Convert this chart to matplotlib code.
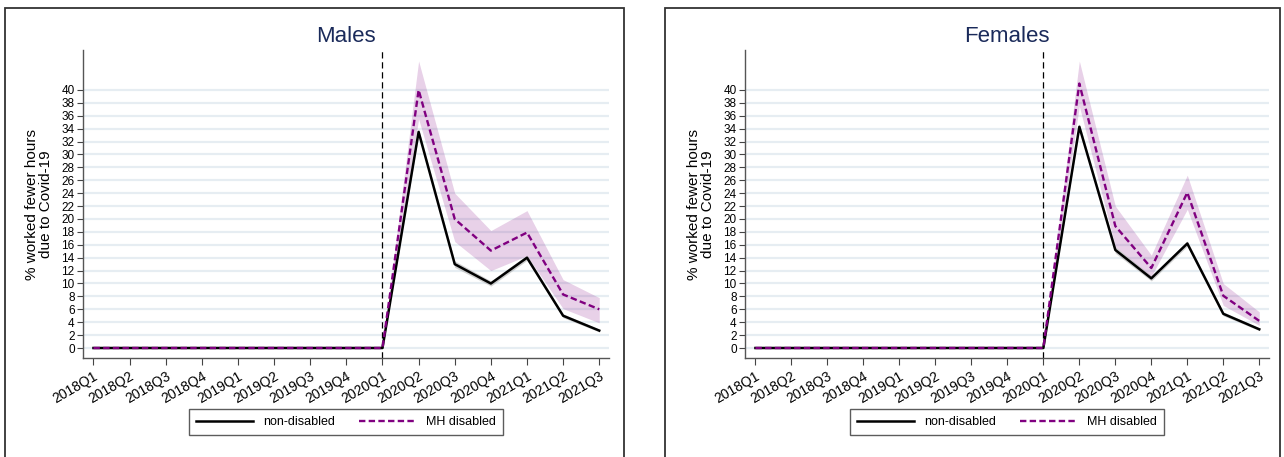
import numpy as np
import matplotlib
matplotlib.use("Agg")
from matplotlib import pyplot as plt
from matplotlib.patches import Rectangle

plt.rcParams['font.family'] = ['Liberation Sans', 'DejaVu Sans']

quarters = ['2018Q1', '2018Q2', '2018Q3', '2018Q4', '2019Q1', '2019Q2', '2019Q3',
            '2019Q4', '2020Q1', '2020Q2', '2020Q3', '2020Q4', '2021Q1', '2021Q2', '2021Q3']

# Males
m_non = [0, 0, 0, 0, 0, 0, 0, 0, 0, 33.5, 13.0, 10.0, 14.0, 5.0, 2.7]
m_non_lo = [0, 0, 0, 0, 0, 0, 0, 0, 0, 33.0, 12.5, 9.6, 13.6, 4.7, 2.5]
m_non_hi = [0, 0, 0, 0, 0, 0, 0, 0, 0, 34.0, 13.5, 10.4, 14.4, 5.3, 2.9]
m_mh = [0, 0, 0, 0, 0, 0, 0, 0, 0, 40.0, 20.0, 15.1, 17.9, 8.3, 6.0]
m_mh_lo = [0, 0, 0, 0, 0, 0, 0, 0, 0, 35.5, 16.5, 12.0, 14.3, 6.1, 3.9]
m_mh_hi = [0, 0, 0, 0, 0, 0, 0, 0, 0, 44.5, 24.0, 18.2, 21.3, 10.6, 7.8]

# Females
f_non = [0, 0, 0, 0, 0, 0, 0, 0, 0, 34.3, 15.2, 10.8, 16.2, 5.3, 2.9]
f_non_lo = [0, 0, 0, 0, 0, 0, 0, 0, 0, 33.8, 14.7, 10.4, 15.8, 5.0, 2.7]
f_non_hi = [0, 0, 0, 0, 0, 0, 0, 0, 0, 34.8, 15.7, 11.2, 16.6, 5.6, 3.1]
f_mh = [0, 0, 0, 0, 0, 0, 0, 0, 0, 41.0, 18.9, 12.4, 24.1, 8.1, 4.2]
f_mh_lo = [0, 0, 0, 0, 0, 0, 0, 0, 0, 37.5, 15.7, 11.1, 21.5, 6.6, 3.5]
f_mh_hi = [0, 0, 0, 0, 0, 0, 0, 0, 0, 44.5, 22.0, 14.4, 26.8, 10.0, 5.6]

yticks = list(range(0, 42, 2))

fig = plt.figure(figsize=(12.84, 4.57), dpi=100)
W, H = 1284, 457

# panel frames
for (x0, x1) in [(5, 624), (665, 1280)]:
    fig.patches.append(Rectangle((x0 / W, -0.05), (x1 - x0) / W, (H - 8) / H + 0.05,
                                 transform=fig.transFigure, fill=False,
                                 edgecolor='#333333', linewidth=1.3))

panels = [
    ('Males', 83, 609, m_non, m_non_lo, m_non_hi, m_mh, m_mh_lo, m_mh_hi),
    ('Females', 745, 1269, f_non, f_non_lo, f_non_hi, f_mh, f_mh_lo, f_mh_hi),
]

x = np.arange(len(quarters))
for title, left, right, non, nlo, nhi, mh, mlo, mhi in panels:
    ax = fig.add_axes([left / W, 1 - 358 / H, (right - left) / W, (358 - 50) / H])
    for yv in yticks:
        ax.axhline(yv, color='#e6edf2', linewidth=1.6, zorder=0)
    ax.fill_between(x, nlo, nhi, color='#b0b0b0', alpha=0.6, linewidth=0, zorder=1)
    ax.fill_between(x, mlo, mhi, color='#800080', alpha=0.18, linewidth=0, zorder=1)
    l1, = ax.plot(x, non, color='black', linewidth=1.8, zorder=3, label='non-disabled')
    l2, = ax.plot(x, mh, color='#800080', linewidth=1.7, linestyle=(0, (2.7, 1.4)),
                  zorder=4, label='MH disabled')
    ax.axvline(8, color='black', linewidth=0.9, linestyle=(0, (5, 3)), zorder=2)
    ax.set_xlim(-0.29, 14.27)
    ax.set_ylim(-1.55, 46.2)
    ax.set_yticks(yticks)
    ax.set_xticks(x)
    ax.set_xticklabels(quarters, rotation=30, ha='right', rotation_mode='anchor', fontsize=10)
    ax.tick_params(axis='y', labelsize=8.5, length=4, color='#444444', pad=2)
    ax.tick_params(axis='x', length=5, color='#444444', pad=3)
    for s in ['top', 'right']:
        ax.spines[s].set_visible(False)
    for s in ['left', 'bottom']:
        ax.spines[s].set_color('#555555')
        ax.spines[s].set_linewidth(1)
    ax.set_ylabel('% worked fewer hours\ndue to Covid-19', fontsize=11, labelpad=6,
                  linespacing=1.0)
    ax.set_title(title, fontsize=16, color='#1a2a5a', pad=6)
    ax.legend(handles=[l1, l2], loc='center', bbox_to_anchor=(0.5, (358 - 422) / 308),
              ncol=2, frameon=True, fancybox=False, edgecolor='#333333', fontsize=9,
              handlelength=4.6, columnspacing=1.9, handletextpad=0.8,
              borderpad=0.55).get_frame().set_linewidth(1)

fig.savefig('out.png', dpi=100)
